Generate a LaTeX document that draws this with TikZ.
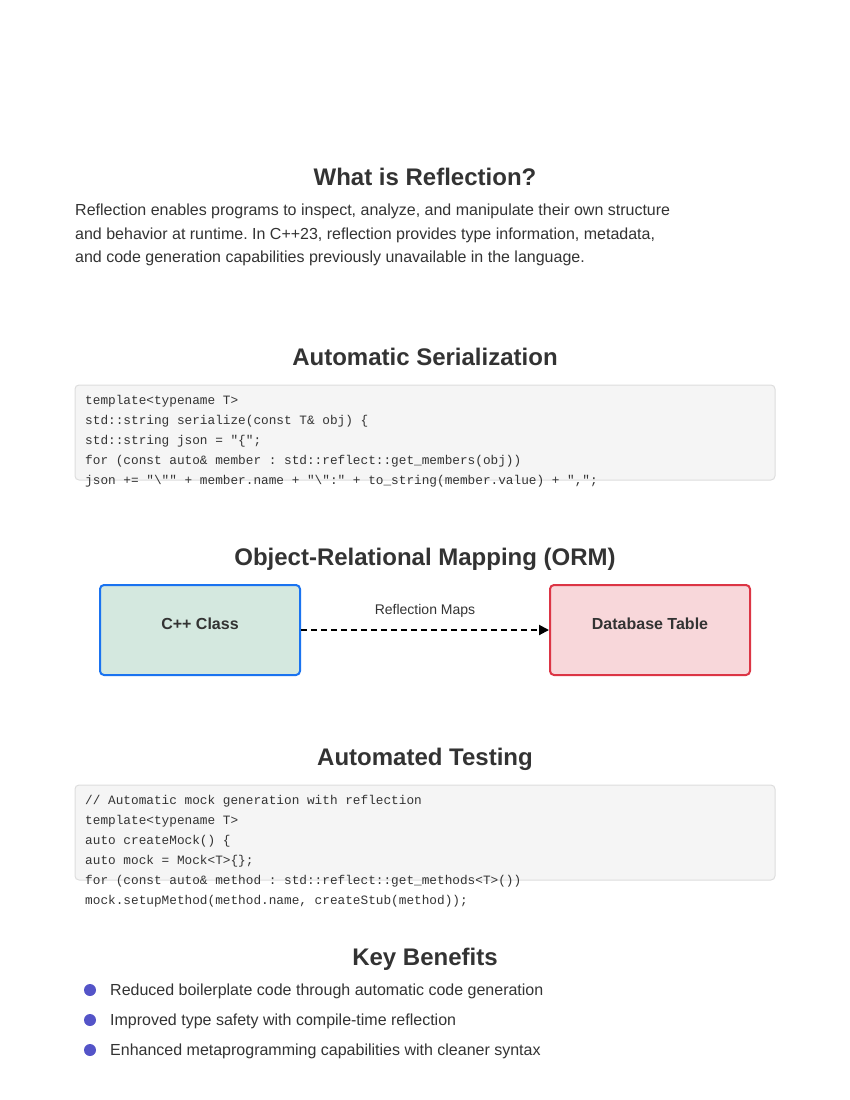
\documentclass[tikz,border=0pt]{standalone}
\usepackage{fontspec}
\setmainfont{Liberation Sans}
\setmonofont{Liberation Mono}
\usetikzlibrary{arrows.meta, math, calc}
\frenchspacing

\definecolor{ink}{HTML}{333333}
\definecolor{codeFill}{HTML}{F5F5F5}
\definecolor{codeDraw}{HTML}{DDDDDD}
\definecolor{classFill}{HTML}{D4E8DF}
\definecolor{classDraw}{HTML}{1A73F0}
\definecolor{tableFill}{HTML}{F8D7DA}
\definecolor{tableDraw}{HTML}{DC3545}
\definecolor{dotColor}{HTML}{5454C8}

\begin{document}
\begin{tikzpicture}[x=1pt, y=-1pt, text=ink]
			\tikzmath{
				\pageW       		 = 850;   %page width
				\pageH       		 = 1100;  %page height
				\codeL       		 = 85;    %left edge of code text
				\rowH        		 = 20;    %code row height
				\boxW        		 = 200;   %mapping box width
				\boxH        		 = 90;    %mapping box height
			}
			\tikzstyle{Heading} = [
				anchor=base,
				inner sep=0,
				font=\fontsize{24}{28}\selectfont\bfseries
			]
			\tikzstyle{Para} = [
				anchor=base west,
				inner sep=0,
				font=\fontsize{16}{19}\selectfont
			]
			\tikzstyle{CodeBox} = [
				draw=codeDraw,
				fill=codeFill,
				line width=1pt,
				rounded corners=4pt
			]
			\tikzstyle{CodeLine} = [
				anchor=base west,
				inner sep=0,
				font=\fontsize{12.75}{16}\ttfamily
			]
			\tikzstyle{MapBox} = [
				minimum width=\boxW, 
				minimum height=\boxH, 
				text depth=12pt,
				line width=2pt,
				rounded corners=4pt,
				font=\fontsize{16}{19}\selectfont\bfseries
			]
			\tikzstyle{Dot} = [
				circle,
				fill=dotColor,
				minimum size=12pt,
				inner sep=0
			]
			\tikzstyle{Benefit} = [
				anchor=base west,
				inner sep=0,
				font=\fontsize{16}{19}\selectfont
			]
			\useasboundingbox (0,0) rectangle (\pageW,\pageH);

			% what is reflection
			\node (titleWhat) [Heading] at (425,185.5) {What is Reflection?};
			\node (intro1) [Para] at (75,215.5) {Reflection enables programs to inspect, analyze, and manipulate their own structure};
			\node (intro2) [Para] at ($(intro1.base west) + (0,23.5)$) {and behavior at runtime. In C++23, reflection provides type information, metadata,};
			\node (intro3) [Para] at ($(intro2.base west) + (0,23.5)$) {and code generation capabilities previously unavailable in the language.};

			% serialization
			\node (titleSer) [Heading] at (425,365.5) {Automatic Serialization};
			\draw [CodeBox] (75,385) rectangle (775,480);
			\node (ser1) [CodeLine] at (\codeL,404.5) {template<typename T>};
			\node (ser2) [CodeLine] at ($(ser1.base west) + (0,\rowH)$) {std::string serialize(const T\& obj) \{};
			\node (ser3) [CodeLine] at ($(ser2.base west) + (0,\rowH)$) {std::string json = "\{";};
			\node (ser4) [CodeLine] at ($(ser3.base west) + (0,\rowH)$) {for (const auto\& member : std::reflect::get\_members(obj))};
			\node (ser5) [CodeLine] at ($(ser4.base west) + (0,\rowH)$) {json += "\textbackslash"" + member.name + "\textbackslash":" + to\_string(member.value) + ",";};

			% orm
			\node (titleOrm) [Heading] at (425,565.5) {Object-Relational Mapping (ORM)};
			\node (cppClass) [MapBox, draw=classDraw, fill=classFill] at (200,630) {C++ Class};
			\node (dbTable) [MapBox, draw=tableDraw, fill=tableFill] at (650,630) {Database Table};
			\draw [line width=2pt, dash pattern=on 6pt off 4pt, -{Triangle[length=10pt,width=10pt]}] (cppClass.east) -- 
				node (mapLabel) [above=12pt, inner sep=0, font=\fontsize{14}{17}\selectfont] {Reflection Maps} (dbTable.west);

			% testing
			\node (titleTest) [Heading] at (425,765.5) {Automated Testing};
			\draw [CodeBox] (75,785) rectangle (775,880);
			\node (mock1) [CodeLine] at (\codeL,804.5) {// Automatic mock generation with reflection};
			\node (mock2) [CodeLine] at ($(mock1.base west) + (0,\rowH)$) {template<typename T>};
			\node (mock3) [CodeLine] at ($(mock2.base west) + (0,\rowH)$) {auto createMock() \{};
			\node (mock4) [CodeLine] at ($(mock3.base west) + (0,\rowH)$) {auto mock = Mock<T>\{\};};
			\node (mock5) [CodeLine] at ($(mock4.base west) + (0,\rowH)$) {for (const auto\& method : std::reflect::get\_methods<T>())};
			\node (mock6) [CodeLine] at ($(mock5.base west) + (0,\rowH)$) {mock.setupMethod(method.name, createStub(method));};

			% benefits
			\node (titleKey) [Heading] at (425,965.5) {Key Benefits};
			\node (dot1) [Dot] at (90,990) {};
			\node (dot2) [Dot] at (90,1020) {};
			\node (dot3) [Dot] at (90,1050) {};
			\node (benefit1) [Benefit] at (110,995.7) {Reduced boilerplate code through automatic code generation};
			\node (benefit2) [Benefit] at ($(benefit1.base west) + (0,30)$) {Improved type safety with compile-time reflection};
			\node (benefit3) [Benefit] at ($(benefit2.base west) + (0,30)$) {Enhanced metaprogramming capabilities with cleaner syntax};
		\end{tikzpicture}
\end{document}
